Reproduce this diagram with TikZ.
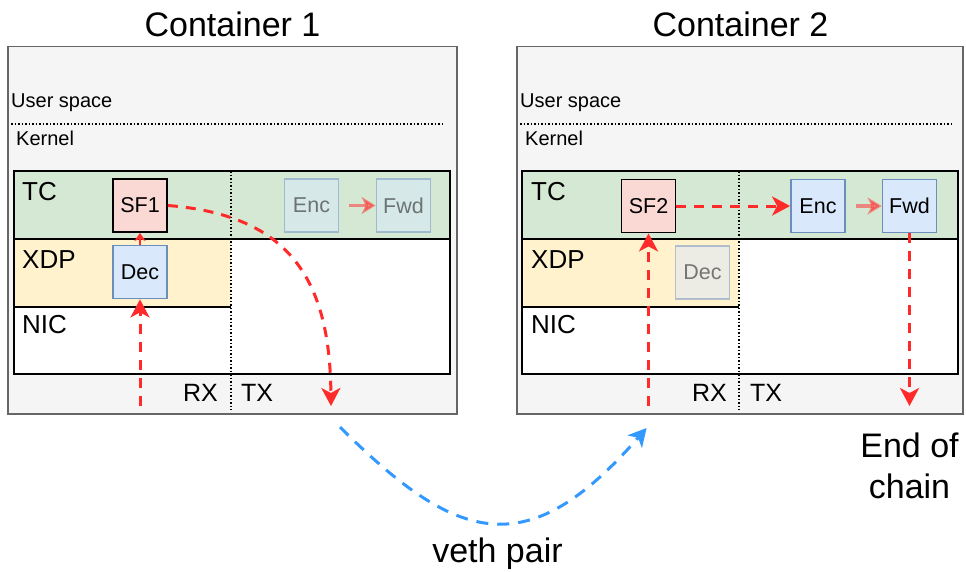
\documentclass[tikz,border=0pt]{standalone}
\usepackage{fontspec}
\setmainfont{Liberation Sans}
\usetikzlibrary{arrows.meta}
\definecolor{cgray}{HTML}{F5F5F5}
\definecolor{cgrayline}{HTML}{666666}
\definecolor{tcgreen}{HTML}{D5E8D4}
\definecolor{xdpyellow}{HTML}{FFF2CC}
\definecolor{sfpink}{HTML}{FAD9D5}
\definecolor{bluefill}{HTML}{DAE8FC}
\definecolor{blueline}{HTML}{6C8EBF}
\definecolor{flowred}{HTML}{FF2A2A}
\definecolor{vethblue}{HTML}{3399FF}
\tikzset{
  container/.style={draw=cgrayline, fill=cgray, line width=1.5pt},
  frame/.style={draw=black, line width=1.8pt},
  sfbox/.style={draw=black, fill=sfpink, line width=1.8pt, minimum width=54pt, minimum height=53pt, inner sep=0pt, font=\fontsize{21.5}{25}\selectfont},
  progbox/.style={draw=blueline, fill=bluefill, line width=1.8pt, minimum width=54pt, minimum height=53pt, inner sep=0pt, font=\fontsize{21.5}{25}\selectfont},
  faded/.style={opacity=0.5},
  title/.style={font=\fontsize{34}{40}\selectfont, inner sep=0pt, anchor=base},
  small/.style={font=\fontsize{20}{24}\selectfont, inner sep=0pt, anchor=base west},
  layer/.style={font=\fontsize{26}{30}\selectfont, inner sep=0pt, anchor=base west},
  dirlabel/.style={font=\fontsize{25}{29}\selectfont, inner sep=0pt},
  sepline/.style={dotted, line width=1.5pt},
  flow/.style={draw=flowred, line width=3pt, dash pattern=on 10pt off 8pt, -{Stealth[length=18pt,width=19pt,inset=5pt]}},
  flowsmall/.style={draw=flowred, line width=2pt, -{Stealth[length=8pt,width=11pt,inset=2pt]}},
  fadedflow/.style={draw=flowred, line width=3.5pt, opacity=0.5, shorten <=10pt, -{Stealth[length=14pt,width=17pt,inset=4pt]}},
  veth/.style={draw=vethblue, line width=3pt, dash pattern=on 12pt off 9pt, -{Stealth[length=18pt,width=19pt,inset=5pt]}},
}
\begin{document}
\begin{tikzpicture}[x=1pt,y=-1pt]
\useasboundingbox (0,0) rectangle (966,571);

% ---------------- Container 1 ----------------
\node[title] (t1) at (232.5,36) {Container 1};
\draw[container] (8,46.5) rectangle (457,414);
\node[small] (us1) at (11,107.5) {User space};
\draw[sepline] (11,124) -- (443,124);
\node[small] (k1) at (16,145) {Kernel};
\fill[white] (14,171) rectangle (450,374);
\fill[tcgreen] (14,171) rectangle (450,239);
\fill[xdpyellow] (14,239) rectangle (231,307);
\draw[frame] (14,171) rectangle (450,374);
\draw[frame] (14,239) -- (450,239);
\draw[black, line width=1.2pt] (14,307) -- (231,307);
\draw[sepline] (231,171) -- (231,410);
\node[layer] (tc1) at (22,200) {TC};
\node[layer] (xdp1) at (22,268) {XDP};
\node[layer] (nic1) at (22,333) {NIC};
\node[dirlabel, anchor=base east] (rx1) at (218,401) {RX};
\node[dirlabel, anchor=base west] (tx1) at (241,401) {TX};

\node[sfbox] (sf1) at (140,205.5) {SF1};
\node[progbox] (dec1) at (140,272) {Dec};
\node[progbox, faded] (enc1) at (311.5,205.5) {Enc};
\node[progbox, faded] (fwd1) at (403.5,205.5) {Fwd};
\draw[fadedflow] (enc1) -- (fwd1);

\coordinate (in1) at (140,406);
\coordinate (out1) at (331,406);
\draw[flow] (in1) -- (dec1.south);
\draw[flowsmall] (dec1.north) -- (sf1.south);
\draw[flow] (sf1.east) .. controls (290,215) and (330,280) .. (out1);

% ---------------- Container 2 ----------------
\node[title] (t2) at (740.5,36) {Container 2};
\draw[container] (517,46.5) rectangle (963,414);
\node[small] (us2) at (520,107.5) {User space};
\draw[sepline] (520,124) -- (952,124);
\node[small] (k2) at (525,145) {Kernel};
\fill[white] (522,171) rectangle (958,374);
\fill[tcgreen] (522,171) rectangle (958,239);
\fill[xdpyellow] (522,239) rectangle (739,307);
\draw[frame] (522,171) rectangle (958,374);
\draw[frame] (522,239) -- (958,239);
\draw[black, line width=1.2pt] (522,307) -- (739,307);
\draw[sepline] (739,171) -- (739,410);
\node[layer] (tc2) at (531,200) {TC};
\node[layer] (xdp2) at (531,268) {XDP};
\node[layer] (nic2) at (531,333) {NIC};
\node[dirlabel, anchor=base east] (rx2) at (727,401) {RX};
\node[dirlabel, anchor=base west] (tx2) at (750,401) {TX};

\node[sfbox] (sf2) at (648.5,206) {SF2};
\node[progbox, faded] (dec2) at (702.5,272.5) {Dec};
\node[progbox] (enc2) at (818,206) {Enc};
\node[progbox] (fwd2) at (909.5,206) {Fwd};

\coordinate (in2) at (648.5,406);
\coordinate (out2) at (909.5,406);
\draw[flow] (in2) -- (sf2.south);
\draw[flow] (sf2.east) -- (enc2.west);
\draw[fadedflow] (enc2) -- (fwd2);
\draw[flow] (fwd2.south) -- (out2);

\node[font=\fontsize{34}{41}\selectfont, align=center, inner sep=0pt] (eoc) at (909.5,466) {End of\\chain};

% ---------------- veth pair ----------------
\coordinate (vstart) at (340,427);
\coordinate (vend) at (646.6,428);
\draw[veth] (vstart) .. controls (458,545) and (528,564) .. (vend);
\node[title] (veth) at (497.5,562.5) {veth pair};
\end{tikzpicture}
\end{document}
